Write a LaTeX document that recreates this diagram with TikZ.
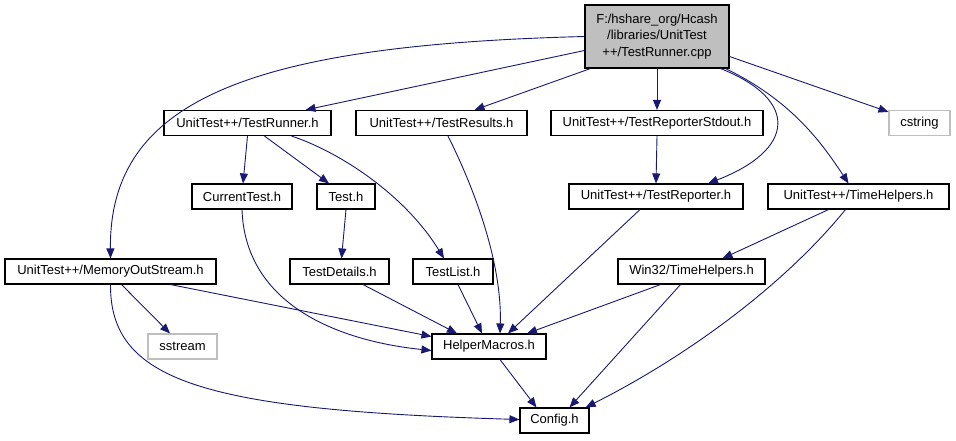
\documentclass[tikz,border=0pt]{standalone}
\usepackage{fontspec}
\setmainfont{Liberation Sans}
\usetikzlibrary{arrows.meta}

\definecolor{edgeblue}{HTML}{191970}
\definecolor{sysgray}{HTML}{BFBFBF}

\tikzset{
    file/.style={draw=black, line width=1.1pt, fill=white, inner sep=0pt,
        minimum height=25pt, font=\fontsize{13}{16.5}\selectfont},
    sysfile/.style={file, draw=sysgray},
    rootfile/.style={file, fill=sysgray, align=center, minimum height=63pt},
    dep/.style={draw=edgeblue, line width=0.9pt, -{Triangle[length=10pt,width=8pt]}}
}

\begin{document}
\begin{tikzpicture}[x=1pt,y=-1pt]
        \useasboundingbox (0,0) rectangle (956,440);

        % === ROOT FILE ===
        \node[rootfile, minimum width=144pt] (root) at (657,36.5)
            {F:/hshare\_org/Hcash\\/libraries/UnitTest\\++/TestRunner.cpp};

        % === FIRST ROW ===
        \node[file, minimum width=167pt] (runner) at (247.5,123) {UnitTest++/TestRunner.h};
        \node[file, minimum width=171pt] (results) at (441.5,123) {UnitTest++/TestResults.h};
        \node[file, minimum width=212pt] (stdout) at (657,123) {UnitTest++/TestReporterStdout.h};
        \node[sysfile, minimum width=61pt] (cstring) at (919.5,123) {cstring};

        % === SECOND ROW ===
        \node[file, minimum width=100pt] (current) at (242,196.5) {CurrentTest.h};
        \node[file, minimum width=58pt] (test) at (346,196.5) {Test.h};
        \node[file, minimum width=174pt] (reporter) at (656,196.5) {UnitTest++/TestReporter.h};
        \node[file, minimum width=181pt] (timehelp) at (858.5,196.5) {UnitTest++/TimeHelpers.h};

        % === THIRD ROW ===
        \node[file, minimum width=211pt] (memout) at (110.5,271.5) {UnitTest++/MemoryOutStream.h};
        \node[file, minimum width=99pt] (details) at (339.5,271.5) {TestDetails.h};
        \node[file, minimum width=80pt] (testlist) at (453,271.5) {TestList.h};
        \node[file, minimum width=147pt] (win32) at (691.5,271.5) {Win32/TimeHelpers.h};

        % === BOTTOM ROWS ===
        \node[sysfile, minimum width=69pt] (sstream) at (182.5,346.5) {sstream};
        \node[file, minimum width=114pt] (macros) at (489,346.5) {HelperMacros.h};
        \node[file, minimum width=69pt] (config) at (554.5,420.5) {Config.h};

        % === EDGES FROM ROOT ===
        \draw[dep] (root.west) .. controls (250,45) and (109,100) .. (memout.north);
        \draw[dep] ([yshift=-14pt]root.west) -- ([xshift=58pt]runner.north);
        \draw[dep] ([xshift=6pt]root.south west) -- ([xshift=33pt]results.north);
        \draw[dep] (root.south) -- (stdout.north);
        \draw[dep] ([xshift=-9pt]root.south east) .. controls (800,100) and (795,150) .. ([xshift=52pt]reporter.north);
        \draw[dep] ([xshift=-4pt]root.south east) .. controls (790,100) and (820,140) .. ([xshift=-10pt]timehelp.north);
        \draw[dep] ([yshift=-20pt]root.east) -- ([yshift=-2pt]cstring.north west);

        % === EDGES FROM TEST RUNNER ===
        \draw[dep] (runner.south) -- ([xshift=1pt]current.north);
        \draw[dep] ([xshift=17pt]runner.south) -- ([xshift=-17pt]test.north);
        \draw[dep] ([xshift=44pt]runner.south) .. controls (340,152) and (405,195) .. ([xshift=-9pt]testlist.north);

        % === EDGES TO HELPER MACROS ===
        \draw[dep] ([xshift=6.5pt]results.south) .. controls (480,200) and (502,270) .. ([xshift=11pt]macros.north);
        \draw[dep] (current.south) .. controls (245,300) and (330,340) .. ([yshift=-4pt]macros.west);
        \draw[dep] ([xshift=60pt]memout.south) -- ([yshift=10pt]macros.west);
        \draw[dep] (test.south) -- ([xshift=2pt]details.north);
        \draw[dep] ([xshift=23.5pt]details.south) -- ([xshift=-32pt]macros.north);
        \draw[dep] ([xshift=5pt]testlist.south) -- ([xshift=-7pt]macros.north);
        \draw[dep] ([xshift=-16pt]reporter.south) -- ([xshift=19pt]macros.north);
        \draw[dep] ([xshift=-31pt]win32.south) -- ([xshift=38pt]macros.north);

        % === OTHER EDGES ===
        \draw[dep] (stdout.south) -- (reporter.north);
        \draw[dep] ([xshift=11pt]memout.south) -- ([xshift=-12.5pt]sstream.north);
        \draw[dep] ([xshift=-30pt]timehelp.south) -- ([xshift=31pt]win32.north);

        % === EDGES TO CONFIG ===
        \draw[dep] ([xshift=11pt]macros.south) -- ([xshift=-18pt]config.north);
        \draw[dep] (memout.south) .. controls (110,380) and (200,410) .. ([yshift=1pt]config.west);
        \draw[dep] ([xshift=-11pt]win32.south) -- ([xshift=15pt]config.north);
        \draw[dep] ([xshift=-13pt]timehelp.south) .. controls (780,290) and (680,360) .. ([xshift=-4pt]config.north east);

    \end{tikzpicture}
\end{document}
